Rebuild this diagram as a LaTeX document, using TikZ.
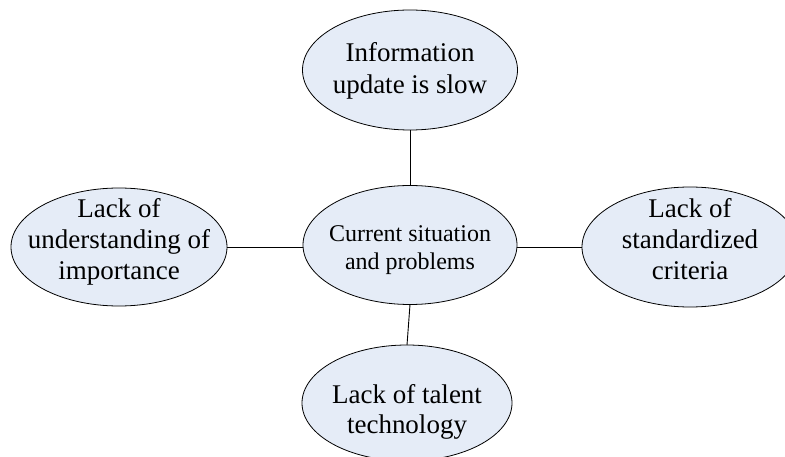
\documentclass[tikz,border=0pt]{standalone}
\usepackage{fontspec}
\setmainfont{Liberation Serif}
\usetikzlibrary{shapes.geometric}
\definecolor{ellfill}{HTML}{E5ECF7}
\tikzset{
  ell/.style={ellipse, draw=black, line width=0.8pt, fill=ellfill, inner sep=0pt, outer sep=0pt},
  txt/.style={align=center, inner sep=0pt, font=\fontsize{27}{31}\selectfont},
  conn/.style={draw=black, line width=0.9pt}
}
\begin{document}
\begin{tikzpicture}[x=1pt,y=-1pt]
\clip (0,0) rectangle (785,457);
\node[ell, minimum width=215pt, minimum height=120pt] (top) at (410,70) {};
\node[txt, font=\fontsize{27}{32}\selectfont] (toptext) at ([yshift=-1pt]top) {Information\\update is slow};
\node[ell, minimum width=214pt, minimum height=119pt] (center) at (410,245) {};
\node[txt, font=\fontsize{24}{28}\selectfont] (centertext) at ([yshift=-5pt]center) {Current situation\\and problems};
\node[ell, minimum width=216pt, minimum height=118pt] (left) at (119,247) {};
\node[txt] (lefttext) at ([yshift=5pt]left) {Lack of\\understanding of\\importance};
\node[ell, minimum width=216pt, minimum height=120pt] (right) at (690,247) {};
\node[txt] (righttext) at ([yshift=8pt]right) {Lack of\\standardized\\criteria};
\node[ell, minimum width=210pt, minimum height=116pt] (bottom) at (407,403) {};
\node[txt, font=\fontsize{27}{30}\selectfont] (bottomtext) at ([yshift=-9pt]bottom) {Lack of talent\\technology};
\draw[conn] (top) -- (center);
\draw[conn] (left.east) -- (center.west |- left.east);
\draw[conn] (center.east |- right.west) -- (right.west);
\draw[conn] (center.south) -- (bottom.north);
\end{tikzpicture}
\end{document}
